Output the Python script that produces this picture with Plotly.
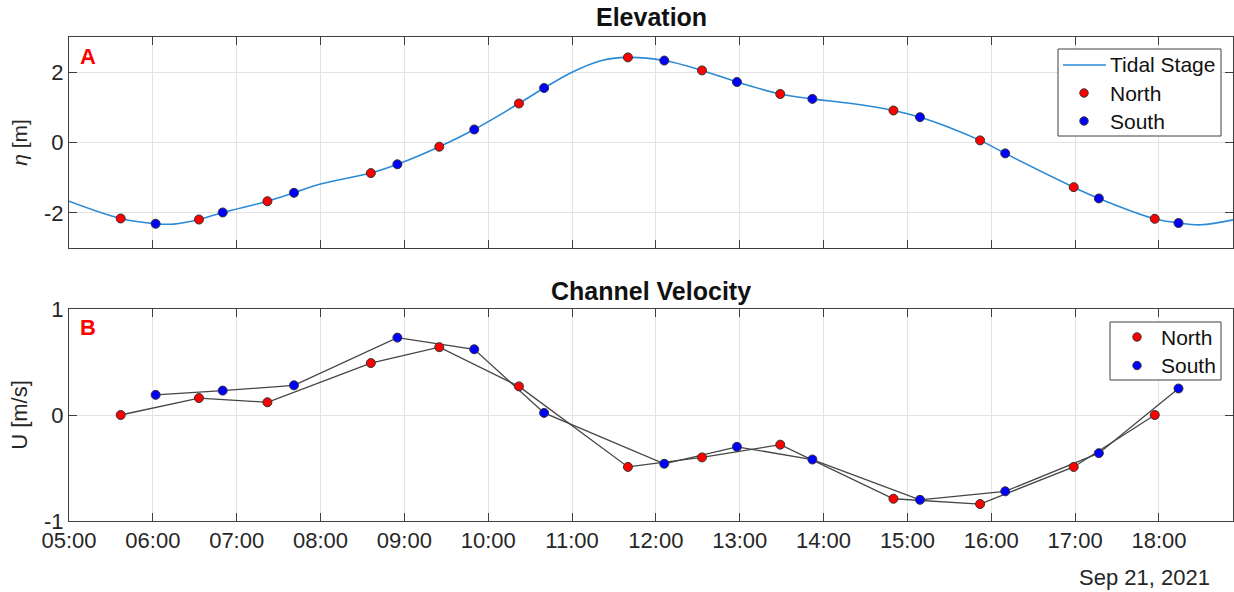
import plotly.graph_objects as go

DAY = "2021-09-21 "

# Tidal stage (water level) trace
tide_time = ["05:00", "05:37", "06:02", "06:15", "06:33", "06:50", "07:22", "07:41",
             "08:00", "08:36", "08:55", "09:25", "09:50", "10:22", "10:40", "11:00",
             "11:20", "11:40", "12:06", "12:33", "12:58", "13:29", "13:52", "14:20",
             "14:50", "15:09", "15:30", "15:52", "16:10", "16:59", "17:17", "17:57",
             "18:14", "18:30", "18:53"]
tide_eta = [-1.67, -2.16, -2.31, -2.32, -2.19, -1.99, -1.67, -1.43,
            -1.18, -0.87, -0.62, -0.12, 0.37, 1.11, 1.55, 2.00,
            2.32, 2.42, 2.33, 2.05, 1.72, 1.38, 1.24, 1.11,
            0.91, 0.72, 0.43, 0.06, -0.31, -1.27, -1.59, -2.17,
            -2.29, -2.34, -2.20]

# North transect samples
north_time = ["05:37", "06:33", "07:22", "08:36", "09:25", "10:22", "11:40",
              "12:33", "13:29", "14:50", "15:52", "16:59", "17:57"]
north_eta = [-2.16, -2.19, -1.67, -0.87, -0.12, 1.11, 2.42,
             2.05, 1.38, 0.91, 0.06, -1.27, -2.17]
north_u = [0.00, 0.16, 0.12, 0.49, 0.64, 0.27, -0.49,
           -0.40, -0.28, -0.79, -0.84, -0.49, 0.00]

# South transect samples
south_time = ["06:02", "06:50", "07:41", "08:55", "09:50", "10:40", "12:06",
              "12:58", "13:52", "15:09", "16:10", "17:17", "18:14"]
south_eta = [-2.31, -1.99, -1.43, -0.62, 0.37, 1.55, 2.33,
             1.72, 1.24, 0.72, -0.31, -1.59, -2.29]
south_u = [0.19, 0.23, 0.28, 0.73, 0.62, 0.02, -0.46,
           -0.30, -0.42, -0.80, -0.72, -0.36, 0.25]

x_ticks = ["05:00", "06:00", "07:00", "08:00", "09:00", "10:00", "11:00",
           "12:00", "13:00", "14:00", "15:00", "16:00", "17:00", "18:00"]


def ts(lst):
    return [DAY + t for t in lst]


FONT = "Liberation Sans, Arial, sans-serif"
AX_COLOR = "#404040"
GRID = "#e3e3e3"
TEXT = "#262626"
TIDE_BLUE = "#2a8ad6"
RED = "#ff0000"
BLUE = "#0000ff"
MARKER = dict(size=9, line=dict(color="#333333", width=1))

fig = go.Figure()

# Top panel: elevation
fig.add_trace(go.Scatter(x=ts(tide_time), y=tide_eta, mode="lines", name="Tidal Stage",
                         line=dict(color=TIDE_BLUE, width=1.6, shape="spline", smoothing=1.0),
                         xaxis="x", yaxis="y"))
fig.add_trace(go.Scatter(x=ts(north_time), y=north_eta, mode="markers", name="North",
                         marker=dict(color=RED, **MARKER), xaxis="x", yaxis="y"))
fig.add_trace(go.Scatter(x=ts(south_time), y=south_eta, mode="markers", name="South",
                         marker=dict(color=BLUE, **MARKER), xaxis="x", yaxis="y"))

# Bottom panel: velocity (connecting lines drawn beneath the markers)
fig.add_trace(go.Scatter(x=ts(north_time), y=north_u, mode="lines",
                         line=dict(color="#454545", width=1.3), xaxis="x2", yaxis="y2"))
fig.add_trace(go.Scatter(x=ts(south_time), y=south_u, mode="lines",
                         line=dict(color="#454545", width=1.3), xaxis="x2", yaxis="y2"))
fig.add_trace(go.Scatter(x=ts(north_time), y=north_u, mode="markers", name="North",
                         marker=dict(color=RED, **MARKER), xaxis="x2", yaxis="y2"))
fig.add_trace(go.Scatter(x=ts(south_time), y=south_u, mode="markers", name="South",
                         marker=dict(color=BLUE, **MARKER), xaxis="x2", yaxis="y2"))

W, H = 1234, 592
L, R = 69, 1233


def px_x(pix):
    return (pix - L) / (R - L)


def py(pix):
    return 1 - pix / H


x_range = [DAY + "05:00", DAY + "18:53"]
common_x = dict(type="date", range=x_range, tickvals=ts(x_ticks), showgrid=True,
                gridcolor=GRID, gridwidth=1, showline=True, linecolor=AX_COLOR, linewidth=1,
                mirror="ticks", ticks="inside", ticklen=8, tickcolor=AX_COLOR, zeroline=False,
                automargin=False, tickfont=dict(family=FONT, size=22, color=TEXT))
common_y = dict(showgrid=True, gridcolor=GRID, gridwidth=1, showline=True, linecolor=AX_COLOR,
                linewidth=1, mirror="ticks", ticks="inside", ticklen=8, tickcolor=AX_COLOR,
                zeroline=False, automargin=False, tickfont=dict(family=FONT, size=22, color=TEXT))

# Legend boxes, drawn in paper coordinates
shapes = []
annotations = []


def legend_box(x0, y0, x1, y1):
    shapes.append(dict(type="rect", xref="paper", yref="paper", x0=px_x(x0), x1=px_x(x1),
                       y0=py(y1), y1=py(y0), fillcolor="white",
                       line=dict(color=AX_COLOR, width=1), layer="above"))


def legend_dot(cx, cy, color):
    r = 4.2
    shapes.append(dict(type="circle", xref="paper", yref="paper",
                       x0=px_x(cx - r), x1=px_x(cx + r), y0=py(cy + r), y1=py(cy - r),
                       fillcolor=color, line=dict(color="#333333", width=1), layer="above"))


def legend_text(x, y, text):
    annotations.append(dict(text=text, x=px_x(x), y=py(y), xref="paper", yref="paper",
                            xanchor="left", yanchor="middle", showarrow=False,
                            font=dict(family=FONT, size=21, color="#111111")))


legend_box(1058, 49, 1221, 136)
shapes.append(dict(type="line", xref="paper", yref="paper", x0=px_x(1063), x1=px_x(1106),
                   y0=py(65), y1=py(65), line=dict(color=TIDE_BLUE, width=1.6), layer="above"))
legend_dot(1084, 93, RED)
legend_dot(1084, 121, BLUE)
legend_text(1108, 65, "Tidal Stage")
legend_text(1108, 93, "North")
legend_text(1108, 121, "South")

legend_box(1110, 322, 1221, 380)
legend_dot(1137, 337, RED)
legend_dot(1137, 365.5, BLUE)
legend_text(1159, 337, "North")
legend_text(1159, 365.5, "South")

annotations += [
    dict(text="<b>Elevation</b>", x=0.5, y=py(17), xref="paper", yref="paper",
         xanchor="center", yanchor="middle", showarrow=False,
         font=dict(family=FONT, size=25, color="#111111")),
    dict(text="<b>Channel Velocity</b>", x=0.5, y=py(291), xref="paper", yref="paper",
         xanchor="center", yanchor="middle", showarrow=False,
         font=dict(family=FONT, size=25, color="#111111")),
    dict(text="<b>A</b>", x=px_x(78), y=py(56), xref="paper", yref="paper",
         xanchor="left", yanchor="middle", showarrow=False,
         font=dict(family=FONT, size=22, color="#ff0000")),
    dict(text="<b>B</b>", x=px_x(78), y=py(327), xref="paper", yref="paper",
         xanchor="left", yanchor="middle", showarrow=False,
         font=dict(family=FONT, size=22, color="#ff0000")),
    dict(text="Sep 21, 2021", x=px_x(1212), y=py(577), xref="paper", yref="paper",
         xanchor="right", yanchor="middle", showarrow=False,
         font=dict(family=FONT, size=22, color=TEXT)),
]

fig.update_layout(
    width=W, height=H,
    margin=dict(l=L, r=W - R, t=0, b=0, autoexpand=False),
    paper_bgcolor="white", plot_bgcolor="white",
    font=dict(family=FONT, color=TEXT),
    showlegend=False,
    xaxis=dict(common_x, anchor="y", showticklabels=False),
    yaxis=dict(common_y, domain=[py(248), py(37)], range=[-3, 3], tickvals=[-2, 0, 2],
               ticktext=["-2", "0", "2"],
               title=dict(text="<i>η</i> [m]", font=dict(family=FONT, size=21), standoff=10)),
    xaxis2=dict(common_x, anchor="y2", matches="x", ticktext=x_ticks),
    yaxis2=dict(common_y, domain=[py(521), py(309)], range=[-1, 1], tickvals=[-1, 0, 1],
                ticktext=["-1", "0", "1"],
                title=dict(text="U [m/s]", font=dict(family=FONT, size=22), standoff=10)),
    shapes=shapes,
    annotations=annotations,
)

fig.write_html("out.html")
